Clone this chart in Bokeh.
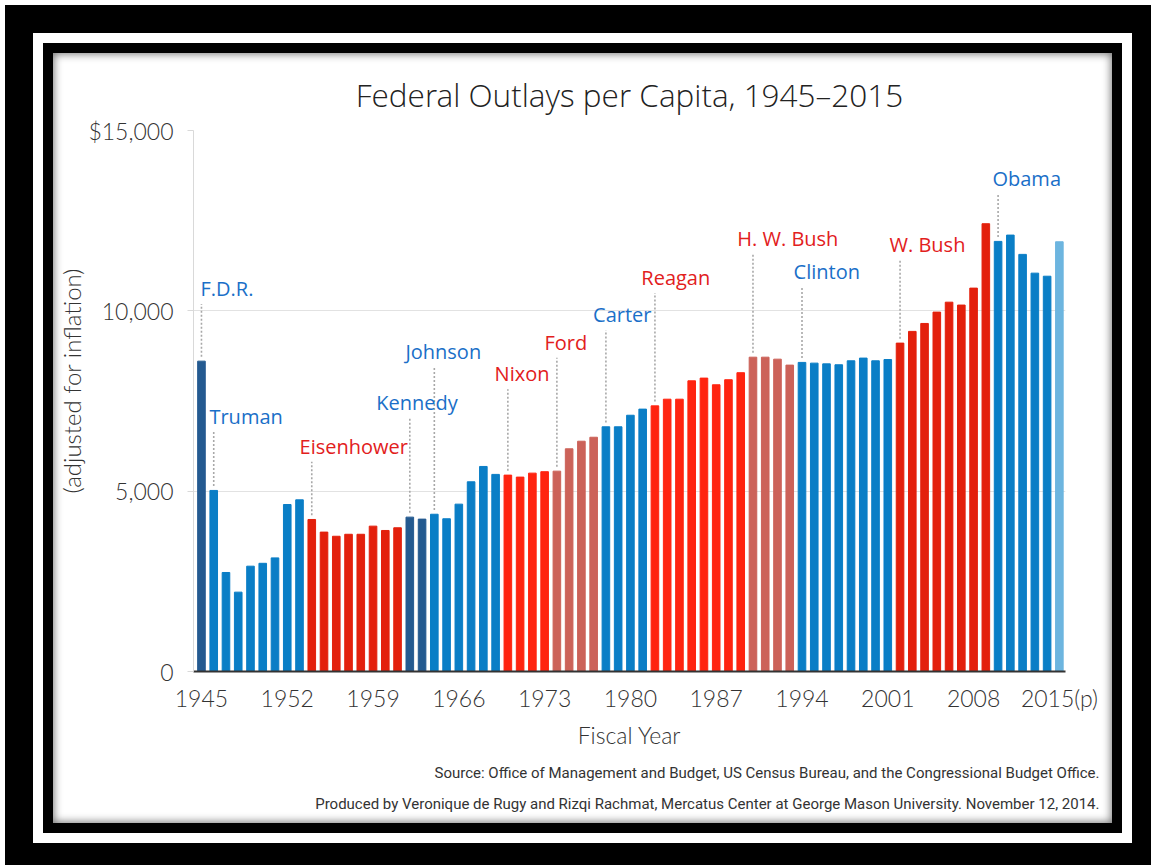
from bokeh.plotting import figure
from bokeh.models import FixedTicker, Label, ColumnDataSource, Title
from bokeh.embed import file_html
from bokeh.resources import INLINE

# ---------------- data ----------------
years = list(range(1945, 2016))
outlays = [8605, 5020, 2745, 2200, 2920, 3000, 3150, 4630, 4760,      # 1945-1953
           4215, 3865, 3750, 3805, 3805, 4030, 3910, 3985,            # 1954-1961
           4280, 4225,                                                # 1962-1963
           4360, 4235, 4640, 5260, 5685, 5465,                        # 1964-1969
           5445, 5390, 5500, 5540,                                    # 1970-1973
           5555, 6175, 6385, 6495,                                    # 1974-1977
           6785, 6785, 7105, 7275,                                    # 1978-1981
           7365, 7550, 7550, 8060, 8135, 7950, 8090, 8285,            # 1982-1989
           8715, 8715, 8660, 8495,                                    # 1990-1993
           8570, 8550, 8530, 8505, 8615, 8690, 8615, 8650,            # 1994-2001
           9105, 9430, 9650, 9965, 10240, 10160, 10630, 12415,        # 2002-2009
           11925, 12100, 11565, 11045, 10960,                         # 2010-2014
           11915]                                                     # 2015 (p)
group = (["dem_dark"] + ["dem"] * 8 + ["rep_a"] * 8 + ["dem_dark"] * 2 + ["dem"] * 6
         + ["rep_b"] * 4 + ["rep_light"] * 4 + ["dem"] * 4 + ["rep_b"] * 8
         + ["rep_light"] * 4 + ["dem"] * 8 + ["rep_a"] * 8 + ["dem"] * 5 + ["projected"])

presidents = ["F.D.R.", "Truman", "Eisenhower", "Kennedy", "Johnson", "Nixon", "Ford",
              "Carter", "Reagan", "H. W. Bush", "Clinton", "W. Bush", "Obama"]
first_fy = [1945, 1946, 1954, 1962, 1964, 1970, 1974, 1978, 1982, 1990, 1994, 2002, 2010]
party = ["D", "D", "R", "D", "D", "R", "R", "D", "R", "R", "D", "R", "D"]

x_ticks = list(range(1945, 2016, 7))
x_tick_labels = {2015: "2015(p)"}
y_ticks = [0, 5000, 10000, 15000]
y_tick_labels = {0: "0", 5000: "5,000", 10000: "10,000", 15000: "$15,000"}

title = "Federal Outlays per Capita, 1945\u20132015"
x_title = "Fiscal Year"
y_title = "(adjusted for inflation)"
source_lines = ["Source: Office of Management and Budget, US Census Bureau, and the Congressional Budget Office.",
                "Produced by Veronique de Rugy and Rizqi Rachmat, Mercatus Center at George Mason University. November 12, 2014."]

# ---------------- styles / layout ----------------
bar_colors = {"dem_dark": "#245a90", "dem": "#0a7ec6", "rep_a": "#e3200c",
              "rep_b": "#ff2410", "rep_light": "#cc6259", "projected": "#6db5df"}
label_colors = {"D": "#1a6fc8", "R": "#e2201c"}
# president label placement (left edge year, vertical centre value)
label_x = [1944.92, 1945.65, 1953.0, 1959.27, 1961.64, 1968.92, 1972.98,
           1976.95, 1980.89, 1988.72, 1993.31, 2001.14, 2009.54]
label_y = [10621, 7071, 6248, 7459, 8882, 8255, 9132, 9891, 10926, 12007, 11092, 11832, 13663]
leader_gap_bottom = 120
leader_gap_top = 430

TITLE_FONT = "Open Sans Light"
TICK_FONT = "Lato Light"
LABEL_FONT = "Open Sans"
SRC_FONT = "Roboto"
TEXT_COL = "#333333"

src = ColumnDataSource(dict(year=years, outlay=outlays,
                            color=[bar_colors[g] for g in group]))

p = figure(width=1059, height=770, x_range=(1944.35, 2015.5), y_range=(0, 15000),
           output_backend="svg", toolbar_location=None,
           min_border_left=140, min_border_right=47, min_border_top=77, min_border_bottom=152)
p.margin = (53, 0, 0, 53)
p.border_fill_color = None
p.background_fill_color = "white"
p.outline_line_color = None
p.styles = {"background-color": "white",
            "box-shadow": "inset 0 0 9px 1px rgba(0,0,0,0.55), 0 0 0 10px black, "
                          "0 0 0 20px white, 0 0 0 48px black"}

p.vbar(x="year", top="outlay", width=0.62, bottom=0, color="color", source=src)

# leader lines
idx = {y: i for i, y in enumerate(years)}
p.segment(x0=first_fy, x1=first_fy,
          y0=[outlays[idx[y]] + leader_gap_bottom for y in first_fy],
          y1=[ly - leader_gap_top for ly in label_y],
          line_color="#a8a8a8", line_width=1.6, line_dash="2 2")

for name, pt, lx, ly in zip(presidents, party, label_x, label_y):
    p.add_layout(Label(x=lx, y=ly, text=name, text_align="left", text_baseline="middle",
                       text_font=LABEL_FONT, text_font_size="20px",
                       text_color=label_colors[pt]))

# axes
p.xgrid.visible = False
p.ygrid.grid_line_color = "#e2e2e2"
p.ygrid.grid_line_width = 1

xa = p.xaxis[0]
xa.ticker = FixedTicker(ticks=x_ticks)
xa.major_label_overrides = x_tick_labels
xa.major_tick_line_color = None
xa.minor_tick_line_color = None
xa.major_tick_out = 0
xa.axis_line_color = TEXT_COL
xa.axis_line_width = 2
xa.major_label_text_font = TICK_FONT
xa.major_label_text_font_size = "23px"
xa.major_label_text_color = TEXT_COL
xa.major_label_standoff = 12
xa.axis_label = x_title
xa.axis_label_text_font = TICK_FONT
xa.axis_label_text_font_size = "23px"
xa.axis_label_text_font_style = "normal"
xa.axis_label_text_color = TEXT_COL
xa.axis_label_standoff = 6

ya = p.yaxis[0]
ya.ticker = FixedTicker(ticks=y_ticks)
ya.major_label_overrides = y_tick_labels
ya.minor_tick_line_color = None
ya.major_tick_line_color = "#d9d9d9"
ya.major_tick_out = 6
ya.major_tick_in = 0
ya.axis_line_color = "#d9d9d9"
ya.major_label_text_font = TICK_FONT
ya.major_label_text_font_size = "23px"
ya.major_label_text_color = TEXT_COL
ya.major_label_standoff = 14
ya.axis_label_standoff = 0

# title
p.title.text = title
p.title.align = "center"
p.title.text_font = TITLE_FONT
p.title.text_font_size = "31.5px"
p.title.text_font_style = "normal"
p.title.text_color = "#222222"
p.title.standoff = 29

# y title in the left panel, shifted up from the bottom of the frame
p.add_layout(Title(text=y_title, align="left", offset=178, standoff=0,
                   text_font=TICK_FONT, text_font_size="24px",
                   text_font_style="normal", text_color=TEXT_COL), "left")

# source lines below the axis
for i, line in enumerate(source_lines):
    p.add_layout(Title(text=line, align="right", offset=-34, standoff=(21 if i == 0 else 0),
                       text_font=SRC_FONT, text_font_size="15px", text_line_height=0.9,
                       text_font_style="normal", text_color=TEXT_COL), "below")

open("out.html", "w").write(file_html(p, INLINE))
